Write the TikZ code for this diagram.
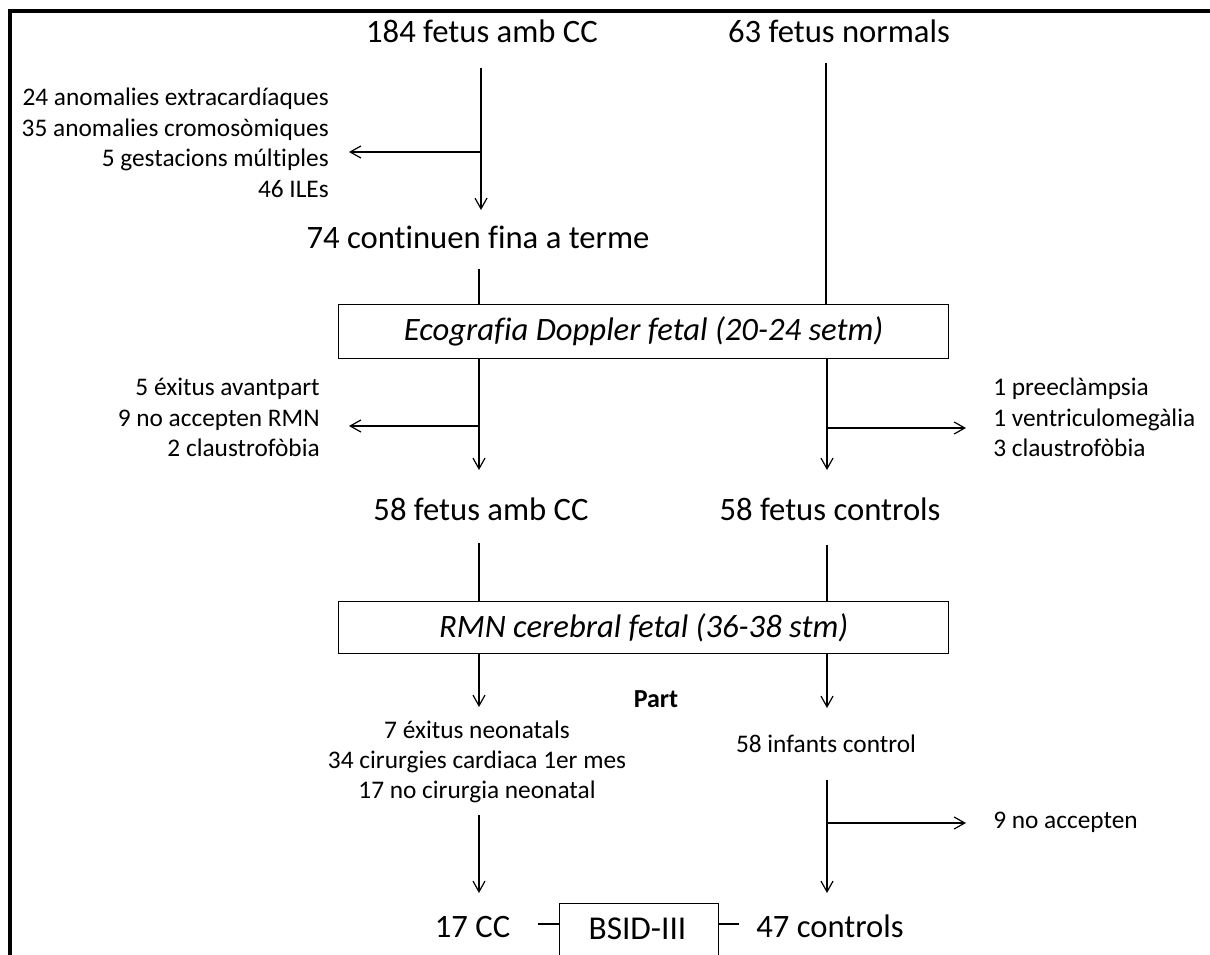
\documentclass[tikz,border=0pt]{standalone}
\usepackage{fontspec}
\setmainfont{Carlito}[Ligatures=NoCommon]
\usetikzlibrary{arrows.meta}
\tikzset{
  big/.style={font=\fontsize{24.5pt}{28pt}\selectfont, inner sep=0pt},
  small/.style={font=\fontsize{19pt}{22.8pt}\selectfont, inner sep=0pt},
  stagebox/.style={draw, line width=1pt},
  conn/.style={line width=0.9pt},
  arr/.style={line width=0.9pt, -{Straight Barb[length=8pt,width=9pt,line width=0.9pt]}},
}
\begin{document}
\begin{tikzpicture}[x=0.75pt,y=-0.75pt]
\useasboundingbox (0,0) rectangle (1210,955);
\clip (0,0) rectangle (1210,955);
% frame
\draw[line width=3pt] (10,970) -- (10,11) -- (1220,11);

% top nodes
\node[big, anchor=base] (n184) at (482,43) {184 fetus amb CC};
\node[big, anchor=base] (n63) at (839,43) {63 fetus normals};
\node[small, anchor=base east] (ex1) at (329,106) {\begin{tabular}[t]{@{}r@{}}24 anomalies extracardíaques\\35 anomalies cromosòmiques\\5 gestacions múltiples\\46 ILEs\end{tabular}};
\node[big, anchor=base] (n74) at (478,249) {74 continuen fina a terme};

\node[stagebox, minimum width=610*0.75pt, minimum height=54*0.75pt, inner sep=0pt, anchor=north west, font=\fontsize{24.5pt}{28pt}\selectfont\itshape] (box1) at (338,304) {Ecografia Doppler fetal (20-24 setm)};

\node[small, anchor=base east] (ex2) at (320,396) {\begin{tabular}[t]{@{}r@{}}5 éxitus avantpart\\9 no accepten RMN\\2 claustrofòbia\end{tabular}};
\node[small, anchor=base west] (ex3) at (993,396) {\begin{tabular}[t]{@{}l@{}}1 preeclàmpsia\\1 ventriculomegàlia\\3 claustrofòbia\end{tabular}};

\node[big, anchor=base] (n58cc) at (481,520) {58 fetus amb CC};
\node[big, anchor=base] (n58ctl) at (830,520) {58 fetus controls};

\node[stagebox, minimum width=610*0.75pt, minimum height=52*0.75pt, inner sep=0pt, anchor=north west, font=\fontsize{24.5pt}{28pt}\selectfont\itshape] (box2) at (338,601) {RMN cerebral fetal (36-38 stm)};

\node[small, anchor=base, font=\fontsize{19.5pt}{22.8pt}\selectfont\bfseries] (part) at (656,707) {Part};
\node[small, anchor=base] (out3) at (477,738) {\begin{tabular}[t]{@{}c@{}}7 éxitus neonatals\\34 cirurgies cardiaca 1er mes\\17 no cirurgia neonatal\end{tabular}};
\node[small, anchor=base] (n58inf) at (826,752) {58 infants control};
\node[small, anchor=base west] (n9) at (993,828) {9 no accepten};

\node[big, anchor=base] (n17) at (472.5,937) {17 CC};
\node[stagebox, minimum width=159*0.75pt, minimum height=80*0.75pt, inner sep=0pt, anchor=north west] (box3) at (559,903) {};
\node[big, anchor=base, font=\fontsize{25pt}{28pt}\selectfont] (bsid) at (637.5,939) {BSID-III};
\node[big, anchor=base west] (n47) at (756,937) {47 controls};

% coordinates
\coordinate (a1) at (481,68);
\coordinate (a1e) at (481,210);
\coordinate (b1) at (481,152);
\coordinate (b1e) at (349,152);
\coordinate (r1) at (826,63);
\coordinate (l2) at (479,269);
\coordinate (l3e) at (479,470);
\coordinate (b3) at (479,426);
\coordinate (b3e) at (349,426);
\coordinate (r3e) at (827,470);
\coordinate (c3) at (827,428);
\coordinate (c3e) at (966,428);
\coordinate (l4) at (479,543);
\coordinate (r4) at (827,545);
\coordinate (l5e) at (479,707);
\coordinate (r5e) at (827,708);
\coordinate (l6) at (479,815);
\coordinate (l6e) at (479,893);
\coordinate (r6) at (827,780);
\coordinate (r6e) at (827,893);
\coordinate (c6) at (827,823);
\coordinate (c6e) at (966,823);
\coordinate (k1) at (538,924);
\coordinate (k2) at (739,924);

% connectors
\draw[arr] (a1) -- (a1e);
\draw[arr] (b1) -- (b1e);
\draw[conn] (r1) -- (r1 |- box1.north);
\draw[conn] (l2) -- (l2 |- box1.north);
\draw[arr] (l2 |- box1.south) -- (l3e);
\draw[arr] (b3) -- (b3e);
\draw[arr] (c3 |- box1.south) -- (r3e);
\draw[arr] (c3) -- (c3e);
\draw[conn] (l4) -- (l4 |- box2.north);
\draw[conn] (r4) -- (r4 |- box2.north);
\draw[arr] (l5e |- box2.south) -- (l5e);
\draw[arr] (r5e |- box2.south) -- (r5e);
\draw[arr] (l6) -- (l6e);
\draw[arr] (r6) -- (r6e);
\draw[arr] (c6) -- (c6e);
\draw[conn] (k1) -- (k1 -| box3.west);
\draw[conn] (k2 -| box3.east) -- (k2);
\end{tikzpicture}
\end{document}
